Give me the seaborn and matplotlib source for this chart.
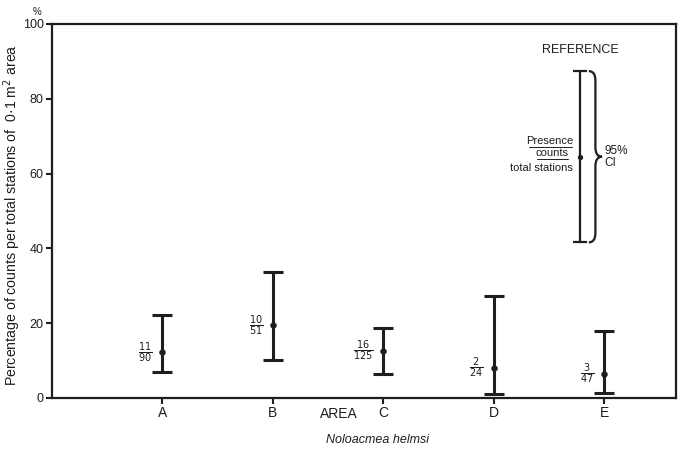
import numpy as np
import pandas as pd
import seaborn as sb
import matplotlib.pyplot as plt
from matplotlib.path import Path
from matplotlib.patches import PathPatch

# values (percent)
areas = ["A", "B", "C", "D", "E"]
counts = [11, 10, 16, 2, 3]
stations = [90, 51, 125, 24, 47]
pct = [12.2, 19.4, 12.6, 8.0, 6.4]
ci_low = [7.0, 10.2, 6.4, 1.0, 1.3]
ci_high = [22.2, 33.8, 18.6, 27.2, 17.8]

ref_pct = 64.4
ref_low = 41.6
ref_high = 87.4

INK = "#1e1e1e"

sb.set_style("white")
plt.rcParams["font.family"] = ["Liberation Sans", "DejaVu Sans"]

dset = pd.DataFrame({
    "pos": np.arange(1, len(areas) + 1),
    "area": areas,
    "pct": pct,
    "low": ci_low,
    "high": ci_high,
})

fig = plt.figure(figsize=(6.81, 4.5), dpi=100)
ax = fig.add_axes([0.0764, 0.1156, 0.9163, 0.8311])

# confidence intervals
ax.errorbar(
    dset["pos"], dset["pct"],
    yerr=[dset["pct"] - dset["low"], dset["high"] - dset["pct"]],
    fmt="none", ecolor=INK, elinewidth=2.2, capsize=7, capthick=2.2,
)
sb.scatterplot(data=dset, x="pos", y="pct", color=INK, s=18, ax=ax, zorder=3,
               edgecolor=INK, legend=False)

# fraction labels next to each point
for x, y, c, n in zip(dset["pos"], pct, counts, stations):
    ax.text(x - 0.09, y, r"$\frac{%d}{%d}$" % (c, n), ha="right", va="center",
            fontsize=10, color=INK)

# reference key
rx = 4.78
ax.errorbar([rx], [ref_pct], yerr=[[ref_pct - ref_low], [ref_high - ref_pct]],
            fmt="none", ecolor=INK, elinewidth=1.6, capsize=5, capthick=1.6)
ax.scatter([rx], [ref_pct], color=INK, s=8, zorder=3)
ax.text(rx, 91.5, "REFERENCE", ha="center", va="bottom", fontsize=9, color=INK)
ax.text(rx - 0.06, 68.8, "Presence", ha="right", va="center", fontsize=8, color=INK)
ax.text(rx - 0.1, 65.5, "counts", ha="right", va="center", fontsize=8, color=INK)
ax.text(rx - 0.06, 61.6, "total stations", ha="right", va="center", fontsize=8, color=INK)
ax.plot([rx - 0.46, rx - 0.07], [67.2, 67.2], color=INK, lw=0.7)
ax.plot([rx - 0.39, rx - 0.11], [64.0, 64.0], color=INK, lw=0.7)

# curly brace for the 95% CI
bx0, bw = 4.86, 0.12
mid = (ref_low + ref_high) / 2
r = 2.5
verts = [
    (bx0, ref_high), (bx0 + bw / 2, ref_high), (bx0 + bw / 2, ref_high - r),
    (bx0 + bw / 2, mid + r), (bx0 + bw / 2, mid), (bx0 + bw, mid),
    (bx0 + bw / 2, mid), (bx0 + bw / 2, mid - r),
    (bx0 + bw / 2, ref_low + r), (bx0 + bw / 2, ref_low), (bx0, ref_low),
]
codes = [Path.MOVETO, Path.CURVE3, Path.CURVE3,
         Path.LINETO, Path.CURVE3, Path.CURVE3,
         Path.CURVE3, Path.CURVE3,
         Path.LINETO, Path.CURVE3, Path.CURVE3]
ax.add_patch(PathPatch(Path(verts, codes), fill=False, ec=INK, lw=1.6))
ax.text(5.0, 64.5, "95%\nCI", ha="left", va="center", fontsize=8.5, color=INK,
        linespacing=0.95)

# axes styling
ax.set_xlim(0, 5.65)
ax.set_ylim(0, 100)
ax.set_xticks(dset["pos"])
ax.set_xticklabels(areas, fontsize=10, color=INK)
ax.set_yticks(np.arange(0, 101, 20))
ax.set_yticklabels([str(v) for v in range(0, 101, 20)], fontsize=9, color=INK)
ax.tick_params(axis="both", direction="out", length=4, width=1.5, color=INK,
               left=True, bottom=True, pad=2)
for side in ax.spines.values():
    side.set_color(INK)
    side.set_linewidth(1.6)
ax.set_xlabel("")
ax.set_ylabel("Percentage of counts per total stations of  0·1 m$^2$ area",
              fontsize=10.2, color=INK)
ax.yaxis.set_label_coords(-0.046, 0.49)
ax.text(-0.14, 102, "%", ha="center", va="bottom", fontsize=7, color=INK)
ax.text(2.6, -2.5, "AREA", ha="center", va="top", fontsize=10, color=INK)
ax.text(2.95, -9.5, "Noloacmea helmsi", ha="center", va="top", fontsize=9,
        style="italic", color=INK)

fig.savefig("out.png", dpi=100)
